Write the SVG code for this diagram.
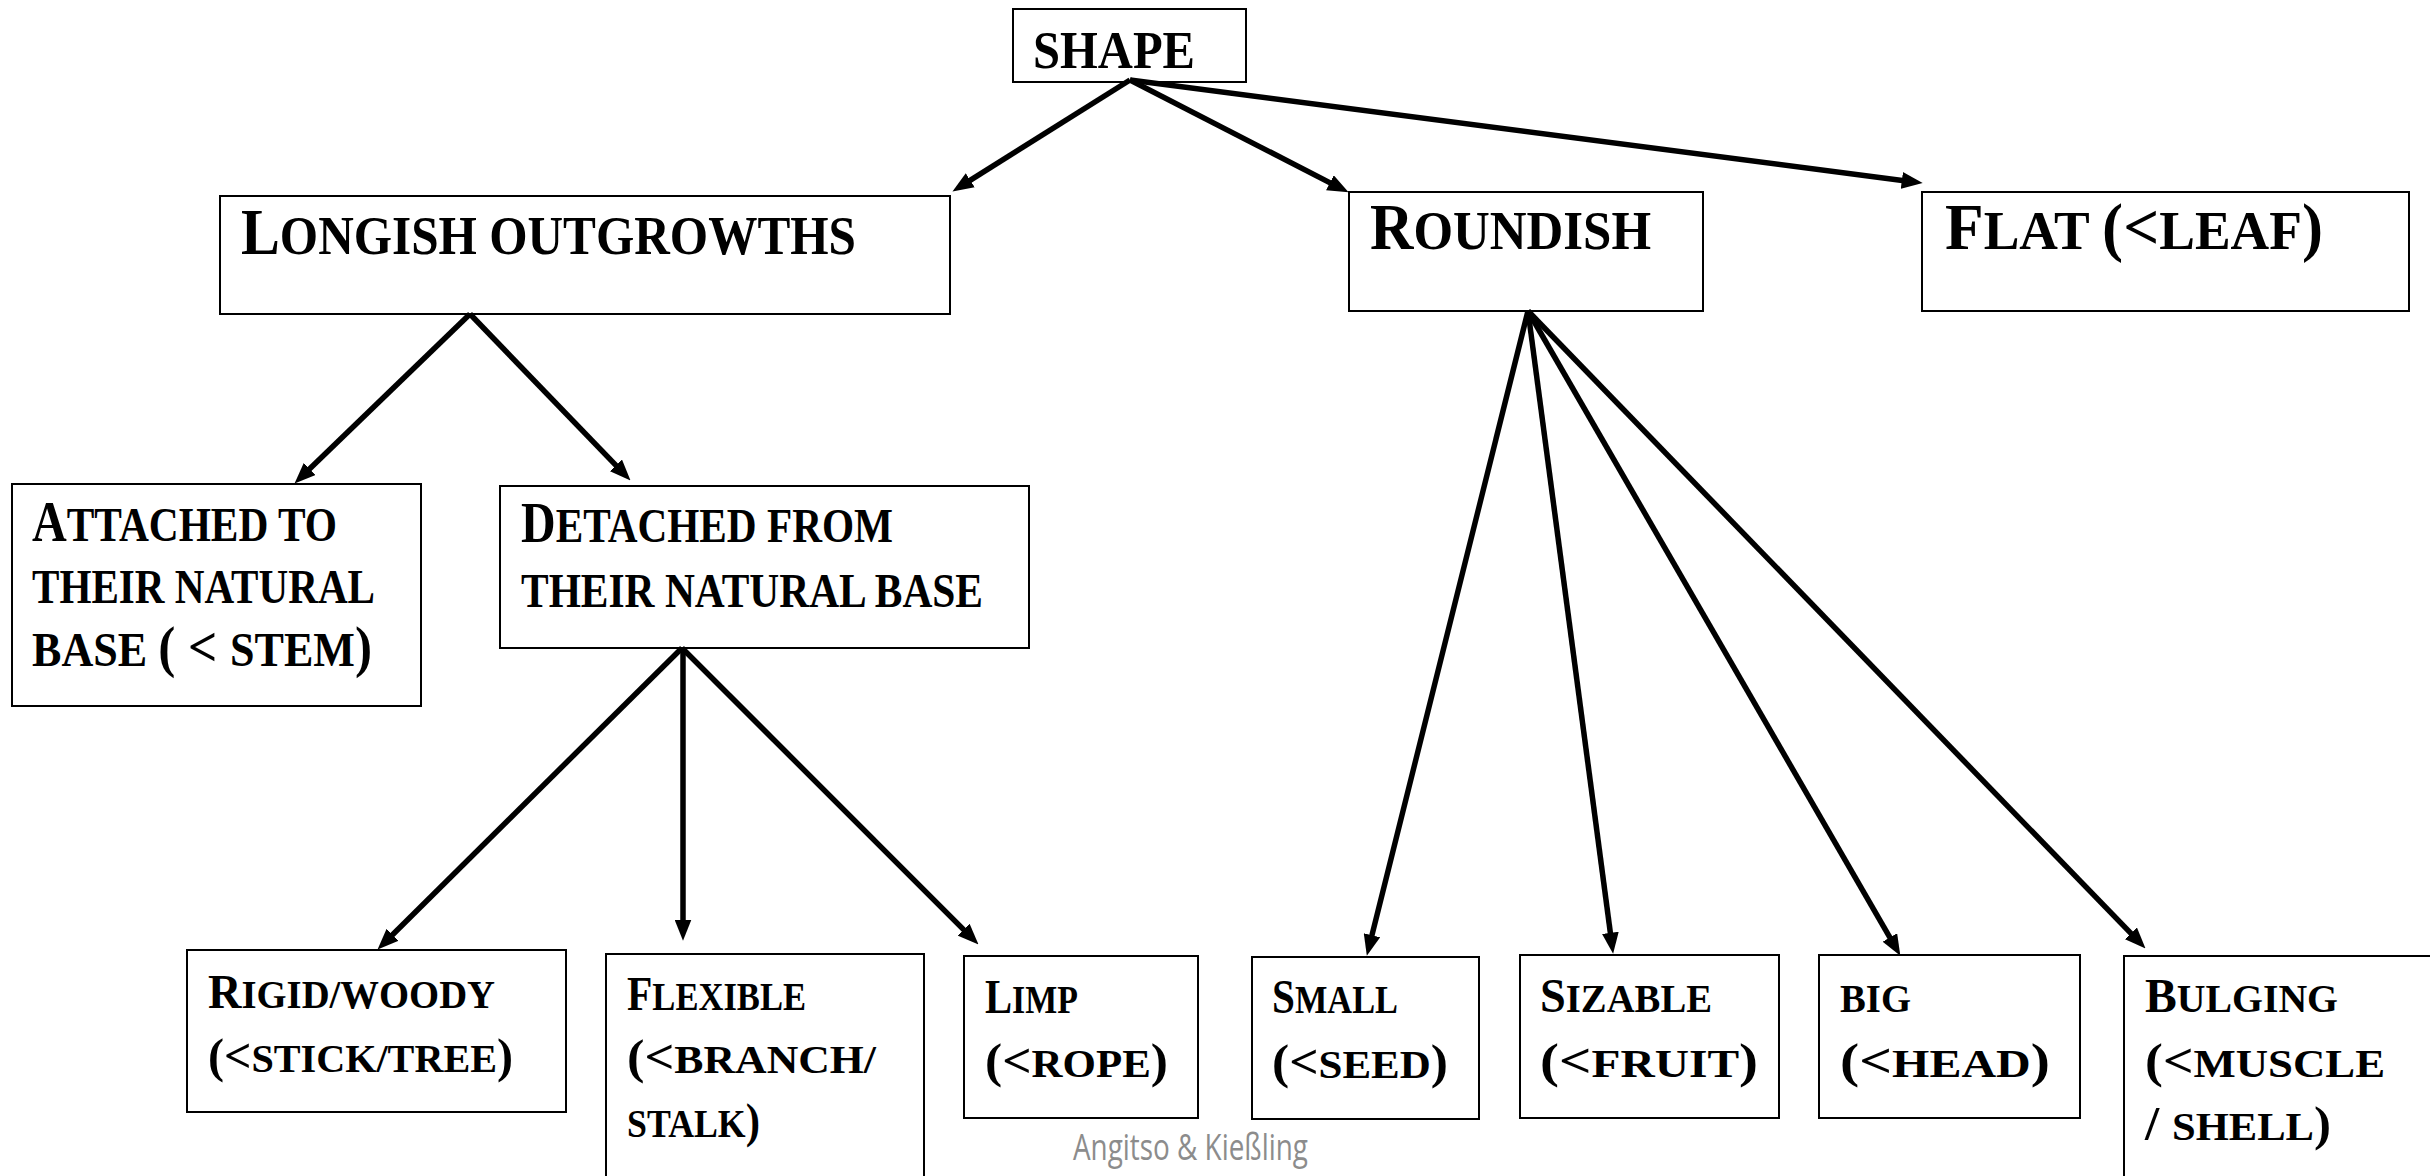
<svg xmlns="http://www.w3.org/2000/svg" width="2430" height="1176" viewBox="0 0 2430 1176">
<defs>
<style>
.box{fill:#fff;stroke:#000;stroke-width:2}
.lbl{font-family:"Liberation Serif","Times New Roman",serif;font-weight:bold;fill:#000}
.c1{font-size:65px}.s1{font-size:55px}
.c2{font-size:57px}.s2{font-size:49px}
.c3{font-size:48px}.s3{font-size:40px}
.conn line{stroke:#000;stroke-width:5.5;marker-end:url(#ah)}
.wm{font-family:"Open Sans","Liberation Sans",sans-serif;font-size:37px;fill:#8c8c8c}
</style>
<marker id="ah" viewBox="0 0 20 16" refX="6" refY="8" markerWidth="21" markerHeight="17" markerUnits="userSpaceOnUse" orient="auto">
<path d="M0,0 L20,8 L0,16 z" fill="#000"/>
</marker>
</defs>
<rect width="2430" height="1176" fill="#fff"/>

<g id="shape">
<rect class="box" x="1013" y="9" width="233" height="73"/>
<text class="lbl" x="1033" y="68" textLength="162" lengthAdjust="spacingAndGlyphs" font-size="53">SHAPE</text>
</g>
<g id="longish">
<rect class="box" x="220" y="196" width="730" height="118"/>
<text class="lbl" x="241" y="254" textLength="615" lengthAdjust="spacingAndGlyphs"><tspan class="c1">L</tspan><tspan class="s1">ONGISH OUTGROWTHS</tspan></text>
</g>
<g id="roundish">
<rect class="box" x="1349" y="192" width="354" height="119"/>
<text class="lbl" x="1370" y="249" textLength="281" lengthAdjust="spacingAndGlyphs"><tspan class="c1">R</tspan><tspan class="s1">OUNDISH</tspan></text>
</g>
<g id="flat">
<rect class="box" x="1922" y="192" width="487" height="119"/>
<text class="lbl" x="1945" y="249" textLength="378" lengthAdjust="spacingAndGlyphs"><tspan class="c1">F</tspan><tspan class="s1">LAT </tspan><tspan class="c1">(&lt;</tspan><tspan class="s1">LEAF</tspan><tspan class="c1">)</tspan></text>
</g>
<g id="attached">
<rect class="box" x="12" y="484" width="409" height="222"/>
<text class="lbl" x="32" y="541" textLength="305" lengthAdjust="spacingAndGlyphs"><tspan class="c2">A</tspan><tspan class="s2">TTACHED TO</tspan></text>
<text class="lbl" x="32" y="603" textLength="343" lengthAdjust="spacingAndGlyphs"><tspan class="s2">THEIR NATURAL</tspan></text>
<text class="lbl" x="32" y="666" textLength="340" lengthAdjust="spacingAndGlyphs"><tspan class="s2">BASE </tspan><tspan class="c2">( &lt; </tspan><tspan class="s2">STEM</tspan><tspan class="c2">)</tspan></text>
</g>
<g id="detached">
<rect class="box" x="500" y="486" width="529" height="162"/>
<text class="lbl" x="521" y="542" textLength="372" lengthAdjust="spacingAndGlyphs"><tspan class="c2">D</tspan><tspan class="s2">ETACHED FROM</tspan></text>
<text class="lbl" x="521" y="607" textLength="462" lengthAdjust="spacingAndGlyphs"><tspan class="s2">THEIR NATURAL BASE</tspan></text>
</g>
<g id="rigid">
<rect class="box" x="187" y="950" width="379" height="162"/>
<text class="lbl" x="208" y="1008" textLength="287" lengthAdjust="spacingAndGlyphs"><tspan class="c3">R</tspan><tspan class="s3">IGID/WOODY</tspan></text>
<text class="lbl" x="208" y="1072" textLength="305" lengthAdjust="spacingAndGlyphs"><tspan class="c3">(&lt;</tspan><tspan class="s3">STICK/TREE</tspan><tspan class="c3">)</tspan></text>
</g>
<g id="flexible">
<rect class="box" x="606" y="954" width="318" height="240"/>
<text class="lbl" x="627" y="1010" textLength="179" lengthAdjust="spacingAndGlyphs"><tspan class="c3">F</tspan><tspan class="s3">LEXIBLE</tspan></text>
<text class="lbl" x="627" y="1073" textLength="249" lengthAdjust="spacingAndGlyphs"><tspan class="c3">(&lt;</tspan><tspan class="s3">BRANCH/</tspan></text>
<text class="lbl" x="627" y="1137" textLength="133" lengthAdjust="spacingAndGlyphs"><tspan class="s3">STALK</tspan><tspan class="c3">)</tspan></text>
</g>
<g id="limp">
<rect class="box" x="964" y="956" width="234" height="162"/>
<text class="lbl" x="985" y="1013" textLength="93" lengthAdjust="spacingAndGlyphs"><tspan class="c3">L</tspan><tspan class="s3">IMP</tspan></text>
<text class="lbl" x="985" y="1077" textLength="183" lengthAdjust="spacingAndGlyphs"><tspan class="c3">(&lt;</tspan><tspan class="s3">ROPE</tspan><tspan class="c3">)</tspan></text>
</g>
<g id="small">
<rect class="box" x="1252" y="957" width="227" height="162"/>
<text class="lbl" x="1272" y="1013" textLength="126" lengthAdjust="spacingAndGlyphs"><tspan class="c3">S</tspan><tspan class="s3">MALL</tspan></text>
<text class="lbl" x="1272" y="1078" textLength="176" lengthAdjust="spacingAndGlyphs"><tspan class="c3">(&lt;</tspan><tspan class="s3">SEED</tspan><tspan class="c3">)</tspan></text>
</g>
<g id="sizable">
<rect class="box" x="1520" y="955" width="259" height="163"/>
<text class="lbl" x="1540" y="1012" textLength="172" lengthAdjust="spacingAndGlyphs"><tspan class="c3">S</tspan><tspan class="s3">IZABLE</tspan></text>
<text class="lbl" x="1540" y="1077" textLength="218" lengthAdjust="spacingAndGlyphs"><tspan class="c3">(&lt;</tspan><tspan class="s3">FRUIT</tspan><tspan class="c3">)</tspan></text>
</g>
<g id="big">
<rect class="box" x="1819" y="955" width="261" height="163"/>
<text class="lbl" x="1840" y="1012" textLength="71" lengthAdjust="spacingAndGlyphs"><tspan class="s3">BIG</tspan></text>
<text class="lbl" x="1840" y="1077" textLength="210" lengthAdjust="spacingAndGlyphs"><tspan class="c3">(&lt;</tspan><tspan class="s3">HEAD</tspan><tspan class="c3">)</tspan></text>
</g>
<g id="bulging">
<rect class="box" x="2124" y="956" width="320" height="240"/>
<text class="lbl" x="2145" y="1012" textLength="193" lengthAdjust="spacingAndGlyphs"><tspan class="c3">B</tspan><tspan class="s3">ULGING</tspan></text>
<text class="lbl" x="2145" y="1077" textLength="240" lengthAdjust="spacingAndGlyphs"><tspan class="c3">(&lt;</tspan><tspan class="s3">MUSCLE</tspan></text>
<text class="lbl" x="2145" y="1140" textLength="186" lengthAdjust="spacingAndGlyphs"><tspan class="c3">/ </tspan><tspan class="s3">SHELL</tspan><tspan class="c3">)</tspan></text>
</g>

<g id="connectors" class="conn">
<line x1="1130" y1="80" x2="964.9" y2="183.6"/>
<line x1="1130" y1="80" x2="1335.5" y2="185.6"/>
<line x1="1130" y1="80" x2="1908.1" y2="181.2"/>
<line x1="470" y1="314" x2="305.1" y2="473.3"/>
<line x1="470" y1="314" x2="620.3" y2="469.9"/>
<line x1="682" y1="648" x2="388" y2="939.2"/>
<line x1="683" y1="648" x2="683" y2="926"/>
<line x1="682" y1="648" x2="968.1" y2="934.1"/>
<line x1="1528" y1="311" x2="1370.4" y2="941.4"/>
<line x1="1528" y1="311" x2="1611.2" y2="939.1"/>
<line x1="1528" y1="311" x2="1893" y2="942.9"/>
<line x1="1528" y1="311" x2="2135.3" y2="937.9"/>
</g>

<text class="wm" x="1073" y="1160" textLength="235" lengthAdjust="spacingAndGlyphs">Angitso &amp; Kießling</text>
</svg>
